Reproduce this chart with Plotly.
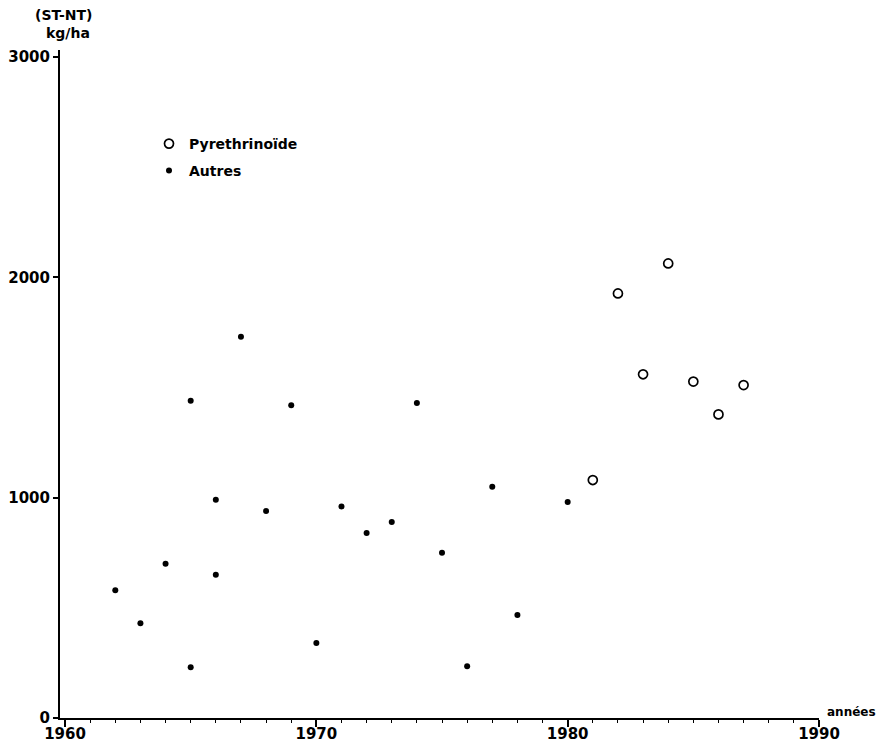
import plotly.graph_objects as go

# Data
autres_years = [1962, 1963, 1964, 1965, 1965, 1966, 1966, 1967, 1968, 1969, 1970,
                1971, 1972, 1973, 1974, 1975, 1976, 1977, 1978, 1980]
autres_values = [580, 430, 700, 1440, 230, 990, 650, 1730, 940, 1420, 340,
                 960, 840, 890, 1430, 750, 235, 1050, 468, 980]

pyr_years = [1981, 1982, 1983, 1984, 1985, 1986, 1987]
pyr_values = [1080, 1927, 1560, 2063, 1527, 1378, 1511]

x_ticks = [1960, 1970, 1980, 1990]
y_ticks = [0, 1000, 2000, 3000]

FONT = "DejaVu Sans"

fig = go.Figure()
fig.add_trace(go.Scatter(
    x=pyr_years, y=pyr_values, mode="markers", name="Pyrethrinoïde",
    marker=dict(symbol="circle-open", size=9, color="black", line=dict(width=1.7, color="black")),
    legend="legend",
))
fig.add_trace(go.Scatter(
    x=autres_years, y=autres_values, mode="markers", name="Autres",
    marker=dict(symbol="circle", size=6, color="black"),
    legend="legend2",
))

# page has an 8px body margin: size the figure so the plot lands where the reference has it
OFF = 8
W, H = 885 - OFF, 747 - OFF
PL, PR, PT, PB = 60, 819, 50, 718   # plot area in window pixels
L = PL - OFF
T = PT - OFF
pw = PR - PL
ph = PB - PT
R = W - L - pw
B = H - T - ph


def px_x(px):
    return (px - PL) / pw


def px_y(py):
    return (PB - py) / ph


fig.update_layout(
    width=W, height=H,
    margin=dict(l=L, r=R, t=T, b=B, pad=0, autoexpand=False),
    paper_bgcolor="white", plot_bgcolor="white",
    font=dict(family=FONT, color="black", size=14, weight="bold"),
    showlegend=True,
    legend=dict(x=px_x(149), y=px_y(144), xanchor="left", yanchor="middle",
                bgcolor="rgba(0,0,0,0)", font=dict(size=14, family=FONT, weight="bold"),
                itemwidth=30),
    legend2=dict(x=px_x(149), y=px_y(171), xanchor="left", yanchor="middle",
                 bgcolor="rgba(0,0,0,0)", font=dict(size=14, family=FONT, weight="bold"),
                 itemwidth=30),
    xaxis=dict(
        automargin=False,
        range=[1959.8, 1990], showgrid=False, zeroline=False,
        showline=True, linecolor="black", linewidth=2,
        tickmode="array", tickvals=x_ticks, ticktext=[str(v) for v in x_ticks],
        ticks="outside", ticklen=7, tickwidth=1.5, tickcolor="black",
        ticklabelstandoff=-6,
        tickfont=dict(size=15, family=FONT, weight="bold"),
        minor=dict(dtick=1, tick0=1960, ticks="outside", ticklen=3, tickwidth=1, tickcolor="black", showgrid=False),
    ),
    yaxis=dict(
        automargin=False,
        range=[0, 3000 * ph / (ph - 7)], showgrid=False, zeroline=False,
        showline=True, linecolor="black", linewidth=2,
        tickmode="array", tickvals=y_ticks, ticktext=[str(v) for v in y_ticks],
        ticks="outside", ticklen=5, tickwidth=1.5, tickcolor="black",
        tickfont=dict(size=15, family=FONT, weight="bold"),
    ),
    annotations=[
        dict(text="(ST-NT)", xref="paper", yref="paper", x=px_x(63), y=px_y(15),
             xanchor="center", yanchor="middle", showarrow=False,
             font=dict(size=14, family=FONT, weight="bold")),
        dict(text="kg/ha", xref="paper", yref="paper", x=px_x(68), y=px_y(33),
             xanchor="center", yanchor="middle", showarrow=False,
             font=dict(size=14, family=FONT, weight="bold")),
        dict(text="années", xref="paper", yref="paper", x=px_x(825), y=px_y(712),
             xanchor="left", yanchor="middle", showarrow=False,
             font=dict(size=12, family=FONT, weight="bold")),
    ],
)

fig.write_html("out.html")
